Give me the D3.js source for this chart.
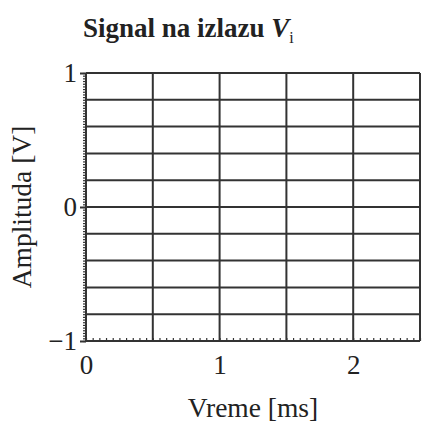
<!DOCTYPE html>
<html>
<head>
  <meta charset="utf-8">
  <title>Signal na izlazu</title>
  <script src="https://d3js.org/d3.v7.min.js"></script>
  <style>
    body { margin: 0; background: #fff; }
    text { font-family: "Liberation Serif", "Times New Roman", serif; fill: #222; }
  </style>
</head>
<body>
<svg width="422" height="428"></svg>
<script>
// axis setup
var xDomain = [0, 2.5]
var yDomain = [-1, 1]
var xTickValues = [0, 1, 2]
var yTickValues = [-1, 0, 1]
var xGridStep = 0.5
var yGridStep = 0.2
var xMinorStep = 0.05
var yMinorStep = 0.02

var width = 422
var height = 428
var margin = { top: 73, right: 2, bottom: 87, left: 86 }

var svg = d3.select('svg')

var x = d3.scaleLinear().domain(xDomain).range([margin.left, width - margin.right])
var y = d3.scaleLinear().domain(yDomain).range([height - margin.bottom, margin.top])

function steps(domain, step) {
  var n = Math.round((domain[1] - domain[0]) / step)
  return d3.range(n + 1).map(function (i) { return domain[0] + i * step })
}

// grid
var grid = svg.append('g').attr('stroke', '#333').attr('stroke-width', 2)
grid.selectAll('line.v')
  .data(steps(xDomain, xGridStep))
  .enter().append('line')
    .attr('x1', function (d) { return x(d) })
    .attr('x2', function (d) { return x(d) })
    .attr('y1', y(yDomain[0]))
    .attr('y2', y(yDomain[1]))
grid.selectAll('line.h')
  .data(steps(yDomain, yGridStep))
  .enter().append('line')
    .attr('y1', function (d) { return y(d) })
    .attr('y2', function (d) { return y(d) })
    .attr('x1', x(xDomain[0]))
    .attr('x2', x(xDomain[1]))

// minor ticks on the x axis, pointing up
svg.append('g')
  .attr('transform', 'translate(0,' + y(yDomain[0]) + ')')
  .call(d3.axisTop(x).tickValues(steps(xDomain, xMinorStep)).tickSize(3).tickFormat(''))
  .call(function (g) { g.select('.domain').remove() })
  .selectAll('line').attr('stroke', '#333').attr('stroke-width', 1.2)

// x tick labels
svg.append('g')
  .attr('transform', 'translate(0,' + y(yDomain[0]) + ')')
  .call(d3.axisBottom(x).tickValues(xTickValues).tickSize(0).tickPadding(14).tickFormat(d3.format('d')))
  .call(function (g) { g.select('.domain').remove() })
  .selectAll('text').attr('font-size', 27).attr('fill', '#222')

// dotted minor ticks on the y axis, pointing left
svg.append('g')
  .attr('transform', 'translate(' + x(xDomain[0]) + ',0)')
  .call(d3.axisLeft(y).tickValues(steps(yDomain, yMinorStep)).tickSize(3).tickFormat(''))
  .call(function (g) { g.select('.domain').remove() })
  .selectAll('line').attr('stroke', '#333').attr('stroke-width', 1.2)

// major y ticks with labels
svg.append('g')
  .attr('transform', 'translate(' + x(xDomain[0]) + ',0)')
  .call(d3.axisLeft(y).tickValues(yTickValues).tickSize(6).tickPadding(3).tickFormat(function (d) { return d < 0 ? '\u2212' + (-d) : d }))
  .call(function (g) { g.select('.domain').remove() })
  .call(function (g) { g.selectAll('line').attr('stroke', '#333').attr('stroke-width', 2) })
  .selectAll('text').attr('font-size', 27).attr('fill', '#222')

// axis titles
svg.append('text')
  .attr('x', (x(xDomain[0]) + x(xDomain[1])) / 2)
  .attr('y', 417)
  .attr('text-anchor', 'middle')
  .attr('font-size', 27.5)
  .text('Vreme [ms]')

svg.append('text')
  .attr('transform', 'translate(31,' + y(0) + ') rotate(-90)')
  .attr('text-anchor', 'middle')
  .attr('font-size', 27.5)
  .text('Amplituda [V]')

// title
var title = svg.append('text')
  .attr('x', 83)
  .attr('y', 37)
  .attr('font-size', 27)
  .attr('font-weight', 'bold')
title.append('tspan').text('Signal na izlazu ')
title.append('tspan').attr('font-style', 'italic').text('V')
title.append('tspan').attr('font-size', 16).attr('font-weight', 'normal').attr('dy', 6).text('i')
</script>
</body>
</html>
